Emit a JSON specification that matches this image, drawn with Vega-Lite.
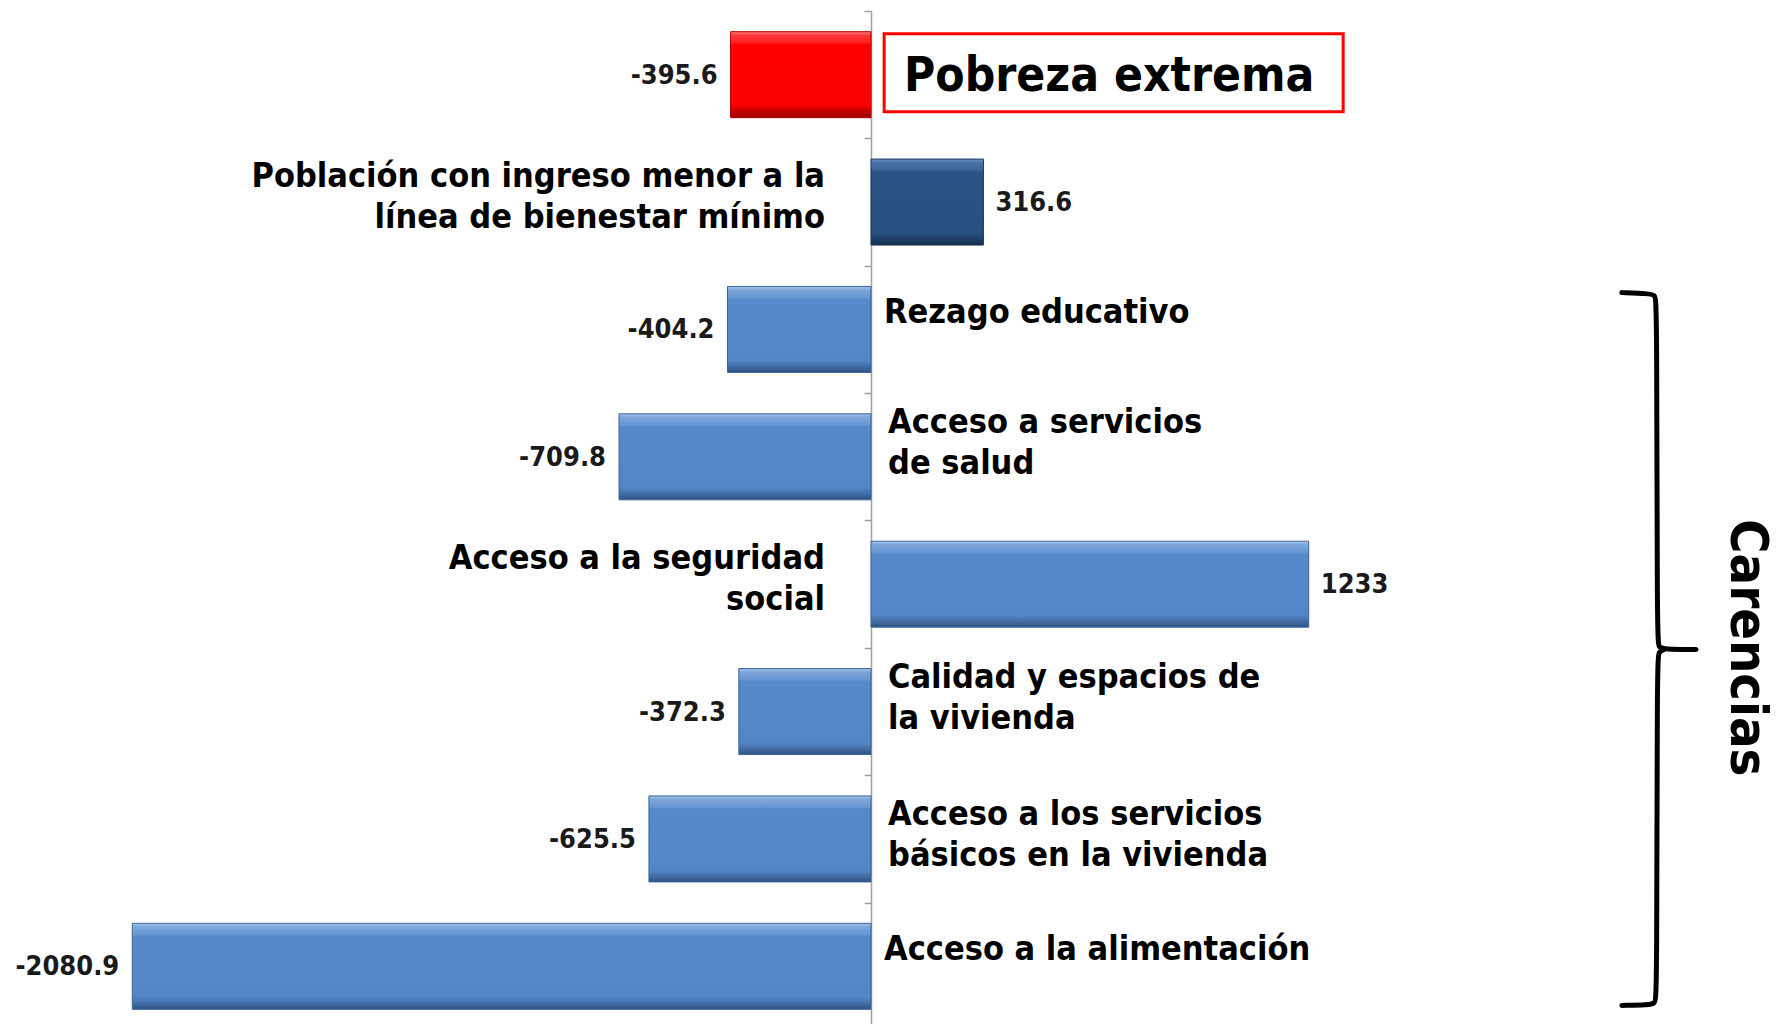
{
  "$schema": "https://vega.github.io/schema/vega-lite/v6.json",
  "width": 1779,
  "height": 1019,
  "autosize": {"type": "none"},
  "padding": {"left": 0, "top": 11, "right": 0, "bottom": 0},
  "background": "#ffffff",
  "config": {"view": {"stroke": null}, "font": "DejaVu Sans Condensed, Liberation Sans Narrow, sans-serif"},
  "datasets": {
    "filas": [
      {"etiqueta": "Pobreza extrema", "valor": -395.6, "grupo": "extrema"},
      {"etiqueta": "Población con ingreso menor a la|línea de bienestar mínimo", "valor": 316.6, "grupo": "ingreso"},
      {"etiqueta": "Rezago educativo", "valor": -404.2, "grupo": "carencia"},
      {"etiqueta": "Acceso a servicios|de salud", "valor": -709.8, "grupo": "carencia"},
      {"etiqueta": "Acceso a  la seguridad|social", "valor": 1233, "grupo": "carencia"},
      {"etiqueta": "Calidad y espacios de|la vivienda", "valor": -372.3, "grupo": "carencia"},
      {"etiqueta": "Acceso a los servicios|básicos en la vivienda", "valor": -625.5, "grupo": "carencia"},
      {"etiqueta": "Acceso a la alimentación", "valor": -2080.9, "grupo": "carencia"}
    ],
    "llave": [
      {"parte": "arriba", "orden": 1, "bx": 2115, "by": 2.211},
      {"parte": "arriba", "orden": 2, "bx": 2190, "by": 2.218},
      {"parte": "arriba", "orden": 3, "bx": 2208, "by": 2.23},
      {"parte": "arriba", "orden": 4, "bx": 2214, "by": 2.27},
      {"parte": "arriba", "orden": 5, "bx": 2214, "by": 4.95},
      {"parte": "arriba", "orden": 6, "bx": 2220, "by": 4.995},
      {"parte": "arriba", "orden": 7, "bx": 2232, "by": 5.01},
      {"parte": "arriba", "orden": 8, "bx": 2324, "by": 5.013},
      {"parte": "abajo", "orden": 1, "bx": 2232, "by": 5.016},
      {"parte": "abajo", "orden": 2, "bx": 2220, "by": 5.03},
      {"parte": "abajo", "orden": 3, "bx": 2214, "by": 5.075},
      {"parte": "abajo", "orden": 4, "bx": 2214, "by": 7.75},
      {"parte": "abajo", "orden": 5, "bx": 2208, "by": 7.79},
      {"parte": "abajo", "orden": 6, "bx": 2190, "by": 7.803},
      {"parte": "abajo", "orden": 7, "bx": 2115, "by": 7.807}
    ],
    "caja": [
      {"x1": 37, "x2": 1330, "y1": 0.178, "y2": 0.79}
    ]
  },
  "resolve": {"scale": {"y": "independent"}, "axis": {"y": "independent"}},
  "layer": [
    {
      "data": {"name": "filas"},
      "encoding": {
        "y": {"field": "etiqueta", "type": "nominal", "sort": null,
              "scale": {"paddingInner": 0.325, "paddingOuter": 0.1625},
              "axis": {"title": null, "labels": false, "offset": -871, "domainColor": "#a0a0a0", "domainWidth": 1.5,
                       "tickColor": "#a0a0a0", "tickWidth": 1.5, "tickSize": 7, "bandPosition": 0, "tickOffset": -20.7, "grid": false}},
        "x": {"field": "valor", "type": "quantitative",
              "scale": {"domain": [-2453.5, 2557.7], "nice": false, "zero": false}, "axis": null}
      },
      "layer": [
        {
          "transform": [{"filter": "datum.grupo == 'extrema'"}],
          "mark": {"type": "bar", "strokeWidth": 1, "stroke": "#b00000",
                   "fill": {"gradient": "linear", "x1": 0, "y1": 0, "x2": 0, "y2": 1,
                            "stops": [{"offset": 0, "color": "#ff8080"}, {"offset": 0.04, "color": "#ff3a3a"}, {"offset": 0.13, "color": "#ff2020"}, {"offset": 0.15, "color": "#ff0000"}, {"offset": 0.86, "color": "#fa0000"}, {"offset": 0.92, "color": "#c80000"}, {"offset": 1, "color": "#9a0000"}]}},
          "encoding": {"x2": {"datum": 0}}
        },
        {
          "transform": [{"filter": "datum.grupo == 'ingreso'"}],
          "mark": {"type": "bar", "strokeWidth": 1, "stroke": "#1a3558",
                   "fill": {"gradient": "linear", "x1": 0, "y1": 0, "x2": 0, "y2": 1,
                            "stops": [{"offset": 0, "color": "#6f94c4"}, {"offset": 0.04, "color": "#4a74a8"}, {"offset": 0.13, "color": "#3a6398"}, {"offset": 0.15, "color": "#2a5284"}, {"offset": 0.86, "color": "#285080"}, {"offset": 0.92, "color": "#1f416b"}, {"offset": 1, "color": "#152e4e"}]}},
          "encoding": {"x2": {"datum": 0}}
        },
        {
          "transform": [{"filter": "datum.grupo == 'carencia'"}],
          "mark": {"type": "bar", "strokeWidth": 1, "stroke": "#3a6598",
                   "fill": {"gradient": "linear", "x1": 0, "y1": 0, "x2": 0, "y2": 1,
                            "stops": [{"offset": 0, "color": "#a8c4ea"}, {"offset": 0.04, "color": "#7ea6dc"}, {"offset": 0.13, "color": "#6796d2"}, {"offset": 0.15, "color": "#5689c9"}, {"offset": 0.86, "color": "#5386c6"}, {"offset": 0.92, "color": "#4571ab"}, {"offset": 1, "color": "#2f5282"}]}},
          "encoding": {"x2": {"datum": 0}}
        },
        {
          "transform": [{"filter": "datum.valor < 0"}],
          "mark": {"type": "text", "align": "right", "baseline": "middle", "dx": -13, "dy": 1, "fontSize": 27, "fontWeight": "bold", "color": "#1a1a1a"},
          "encoding": {"text": {"field": "valor", "type": "nominal"}}
        },
        {
          "transform": [{"filter": "datum.valor > 0"}],
          "mark": {"type": "text", "align": "left", "baseline": "middle", "dx": 12, "dy": 1, "fontSize": 27, "fontWeight": "bold", "color": "#1a1a1a"},
          "encoding": {"text": {"field": "valor", "type": "nominal"}}
        },
        {
          "transform": [{"filter": "datum.valor < 0 && datum.grupo != 'extrema' && indexof(datum.etiqueta, '|') < 0"}],
          "mark": {"type": "text", "align": "left", "baseline": "middle", "dx": 13, "dy": -16, "fontSize": 34, "fontWeight": "bold", "color": "#000000"},
          "encoding": {"x": {"datum": 0}, "text": {"field": "etiqueta", "type": "nominal"}}
        },
        {
          "transform": [{"filter": "datum.valor < 0 && indexof(datum.etiqueta, '|') >= 0 && indexof(datum.etiqueta, 'básicos') < 0"}],
          "mark": {"type": "text", "align": "left", "baseline": "middle", "dx": 17, "dy": -34, "fontSize": 34, "fontWeight": "bold", "lineBreak": "|", "lineHeight": 41, "color": "#000000"},
          "encoding": {"x": {"datum": 0}, "text": {"field": "etiqueta", "type": "nominal"}}
        },
        {
          "transform": [{"filter": "datum.valor < 0 && indexof(datum.etiqueta, 'básicos') >= 0"}],
          "mark": {"type": "text", "align": "left", "baseline": "middle", "dx": 17, "dy": -24, "fontSize": 34, "fontWeight": "bold", "lineBreak": "|", "lineHeight": 41, "color": "#000000"},
          "encoding": {"x": {"datum": 0}, "text": {"field": "etiqueta", "type": "nominal"}}
        },
        {
          "transform": [{"filter": "datum.valor > 0"}],
          "mark": {"type": "text", "align": "right", "baseline": "middle", "dx": -46, "dy": -25, "fontSize": 34, "fontWeight": "bold", "lineBreak": "|", "lineHeight": 41, "color": "#000000"},
          "encoding": {"x": {"datum": 0}, "text": {"field": "etiqueta", "type": "nominal"}}
        },
        {
          "transform": [{"filter": "datum.grupo == 'extrema'"}],
          "mark": {"type": "text", "align": "left", "baseline": "middle", "dx": 33, "dy": 2, "fontSize": 47.5, "fontWeight": "bold", "color": "#000000"},
          "encoding": {"x": {"datum": 0}, "text": {"field": "etiqueta", "type": "nominal"}}
        }
      ]
    },
    {
      "data": {"name": "caja"},
      "mark": {"type": "rect", "fill": null, "stroke": "#ff0000", "strokeWidth": 3},
      "encoding": {
        "x": {"field": "x1", "type": "quantitative", "scale": {"domain": [-2453.5, 2557.7], "nice": false, "zero": false}, "axis": null},
        "x2": {"field": "x2"},
        "y": {"field": "y1", "type": "quantitative", "scale": {"domain": [0, 8], "reverse": true, "nice": false, "zero": false}, "axis": null},
        "y2": {"field": "y2"}
      }
    },
    {
      "data": {"name": "llave"},
      "mark": {"type": "line", "color": "#000000", "strokeWidth": 5, "strokeCap": "round", "strokeJoin": "round", "interpolate": "basis"},
      "encoding": {
        "x": {"field": "bx", "type": "quantitative", "scale": {"domain": [-2453.5, 2557.7], "nice": false, "zero": false}, "axis": null},
        "y": {"field": "by", "type": "quantitative", "scale": {"domain": [0, 8], "reverse": true, "nice": false, "zero": false}, "axis": null},
        "detail": {"field": "parte", "type": "nominal"},
        "order": {"field": "orden", "type": "quantitative"}
      }
    },
    {
      "data": {"values": [{"texto": "Carencias"}]},
      "mark": {"type": "text", "angle": 90, "align": "center", "baseline": "middle", "fontSize": 52, "fontWeight": "bold", "color": "#000000"},
      "encoding": {
        "x": {"datum": 2468, "type": "quantitative", "scale": {"domain": [-2453.5, 2557.7], "nice": false, "zero": false}, "axis": null},
        "y": {"datum": 5.0, "type": "quantitative", "scale": {"domain": [0, 8], "reverse": true, "nice": false, "zero": false}, "axis": null},
        "text": {"field": "texto", "type": "nominal"}
      }
    }
  ]
}
